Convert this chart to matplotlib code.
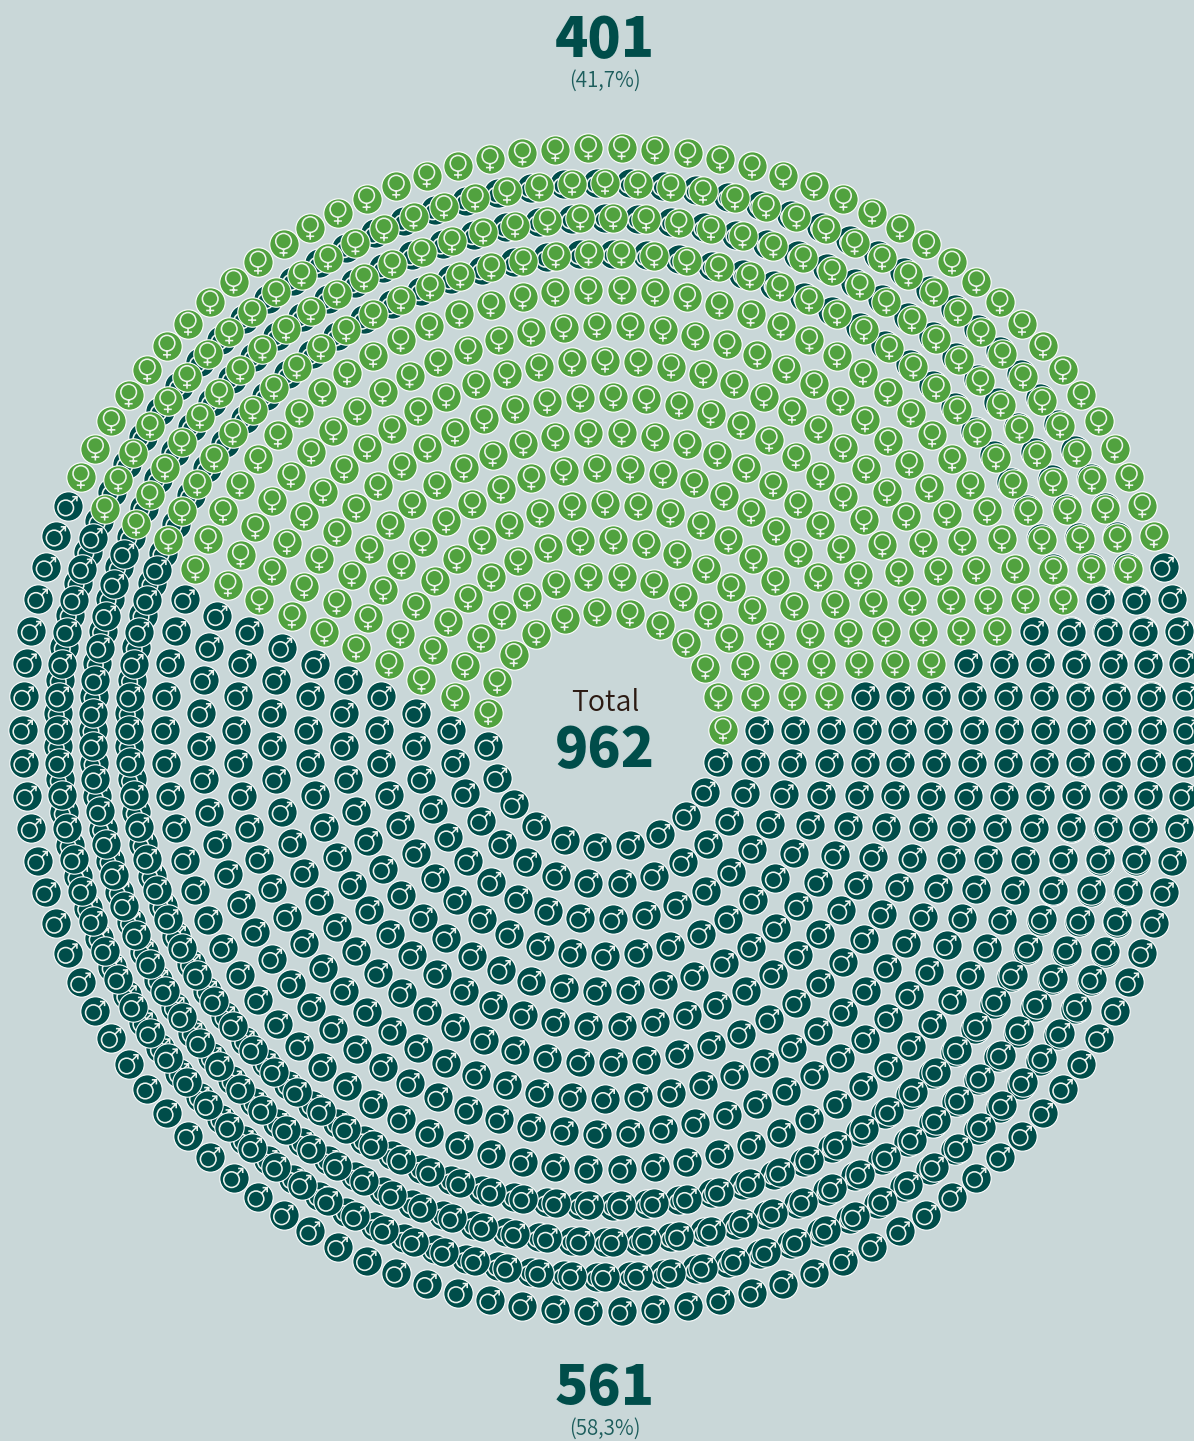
import numpy as np
import matplotlib
matplotlib.use('Agg')
import matplotlib.pyplot as plt
from matplotlib.path import Path
from matplotlib.patches import PathPatch
from matplotlib.transforms import Affine2D

# one row per ring, from the inside out
ring_radius = [118, 154, 190, 226, 262, 297, 333, 369, 404, 440, 476, 512, 547, 582]
ring_count = [23, 30, 37, 44, 51, 58, 65, 72, 79, 86, 94, 101, 108, 114]
green_first = [0, 1, 1, 1, 2, 2, 2, 3, 3, 4, 4, 5, 5, 6]
green_last = [11, 14, 17, 20, 23, 26, 29, 32, 35, 38, 41, 44, 47, 49]
# some rings have a second, dark layer showing behind them
back_count = [0, 0, 0, 0, 0, 0, 0, 0, 0, 0, 93, 100, 107, 0]

top_value = '401'
top_share = '(41,7%)'
bottom_value = '561'
bottom_share = '(58,3%)'
total_label = 'Total'
total_value = '962'

BG = '#c9d7d8'
DARK = '#004d4a'
GREEN = '#51a23f'
PALE = '#eef3ee'
CX, CY = 605, 729.6
DOT_R = 14.7
WARP = 0.5  # degrees, the dots bunch up slightly around the diagonals

plt.rcParams['font.family'] = ['Noto Sans CJK JP', 'DejaVu Sans']

fig = plt.figure(figsize=(11.94, 14.41), dpi=100, facecolor=BG)
ax = fig.add_axes([0, 0, 1, 1])
ax.set_xlim(0, 1194)
ax.set_ylim(1441, 0)
ax.axis('off')


def ring_xy(radius, count):
    ang = np.deg2rad(np.arange(count) * 360.0 / count)
    ang = ang + np.deg2rad(WARP) * np.sin(4 * ang)
    return CX + radius * np.cos(ang), CY - radius * np.sin(ang)


def circle_verts(cx, cy, r):
    p = Path.unit_circle()
    return Path(p.vertices * r + [cx, cy], p.codes)


def line(*pts):
    return Path(pts, [Path.MOVETO] + [Path.LINETO] * (len(pts) - 1))


# glyphs in pixels around the dot centre, y pointing down
female = Path.make_compound_path(
    circle_verts(0, -3.2, 7.8),
    line((0, 4.6), (0, 12)),
    line((-4, 8.5), (4, 8.5)),
)
male = Path.make_compound_path(
    circle_verts(-2.0, 2.0, 7.8),
    line((3.5, -3.5), (9.2, -9.2)),
    line((4.6, -9.2), (9.2, -9.2), (9.2, -4.6)),
)


def draw_dots(x, y, color, glyph, z):
    if len(x) == 0:
        return
    ax.scatter(x, y, s=(2 * DOT_R * 0.72) ** 2, c=color, edgecolors='white',
               linewidths=0.8, zorder=z)
    marks = [glyph.transformed(Affine2D().translate(a, b)) for a, b in zip(x, y)]
    ax.add_patch(PathPatch(Path.make_compound_path(*marks), fill=False,
                           edgecolor=PALE, lw=1.15, zorder=z + 0.5))


# dark back layers first
for r, n in zip(ring_radius, back_count):
    if n:
        bx, by = ring_xy(r, n)
        draw_dots(bx, by, DARK, male, 1)

for r, n, a, b in zip(ring_radius, ring_count, green_first, green_last):
    x, y = ring_xy(r, n)
    is_green = (np.arange(n) >= a) & (np.arange(n) <= b)
    draw_dots(x[~is_green], y[~is_green], DARK, male, 2)
    draw_dots(x[is_green], y[is_green], GREEN, female, 3)

big = dict(ha='center', va='baseline', color=DARK, fontsize=39.5, fontweight=900)
small = dict(ha='center', va='baseline', color='#1c5d5c', fontsize=14.8, fontweight=350)

ax.text(605, 57, top_value, **big)
ax.text(605, 87, top_share, **small)
ax.text(605, 1405, bottom_value, **big)
ax.text(605, 1435, bottom_share, **small)
ax.text(605, 711, total_label, ha='center', va='baseline', color='#2b1a12', fontsize=20.5, fontweight=350)
ax.text(605, 767, total_value, **big)

fig.savefig('out.png', dpi=100, facecolor=BG)
